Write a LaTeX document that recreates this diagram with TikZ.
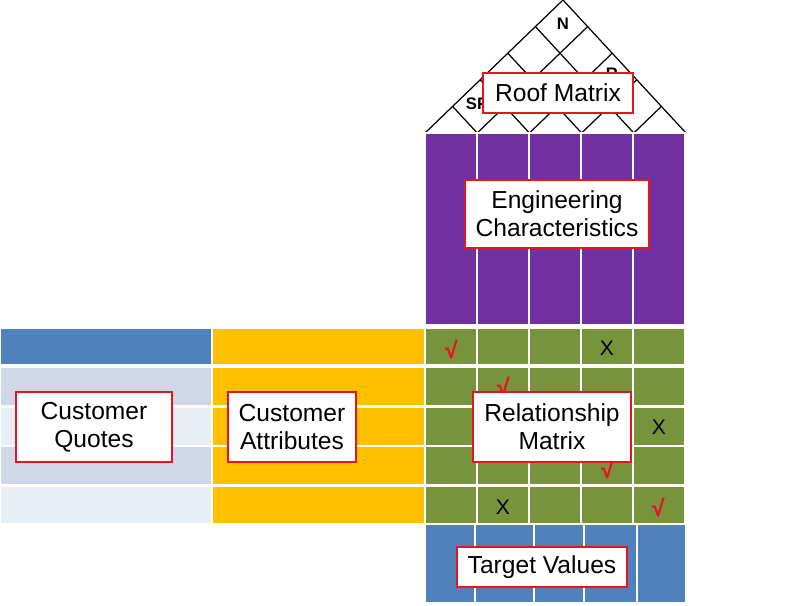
\documentclass[tikz,border=0pt]{standalone}
\usepackage{fontspec}
\setmainfont{Liberation Sans}
\newfontfamily\checkfont{Liberation Sans}[FakeBold=3]
\usetikzlibrary{calc}
\definecolor{ecpurple}{HTML}{7030A0}
\definecolor{relgreen}{HTML}{77933C}
\definecolor{tvblue}{HTML}{4F81BD}
\definecolor{caorange}{HTML}{FFC000}
\definecolor{cqdark}{HTML}{D0D8E8}
\definecolor{cqlight}{HTML}{E9EDF4}
\definecolor{tagred}{HTML}{E8141C}
\tikzset{
  label box/.style={draw=tagred, line width=1.4pt, fill=white, align=center, inner sep=0pt,
    font=\fontsize{14}{16}\selectfont},
  cell/.style={draw=white, line width=1.2pt},
  roof line/.style={line width=0.7pt},
  check/.style={text=tagred, inner sep=0pt, font=\checkfont\fontsize{13}{13}\selectfont},
  cross/.style={inner sep=0pt, font=\fontsize{12}{12}\selectfont},
  roof tag/.style={inner sep=0pt, font=\bfseries\fontsize{9.5}{10}\selectfont},
}
\begin{document}
\begin{tikzpicture}[x=0.02cm,y=-0.02cm]
    \useasboundingbox (0,0) rectangle (800,605);
    \fill[white] (0,0) rectangle (800,605);
    % roof
    \coordinate (apex) at (563,0);
    \coordinate (eaveL) at (425,133);
    \coordinate (eaveR) at (686,133);
    \draw[roof line] (eaveL) -- (apex) -- (eaveR);
    \foreach \i in {1,...,4} {
      \draw[roof line] ($(eaveL)!\i/5!(eaveR)$) -- ($(apex)!\i/5!(eaveR)$);
      \draw[roof line] ($(eaveL)!\i/5!(eaveR)$) -- ($(eaveL)!\i/5!(apex)$);
    }
    \node[roof tag] (tagN) at (563,24) {N};
    \node[roof tag] (tagR) at (612,74) {R};
    \node[roof tag] (tagSP) at (477,104) {SP};
    % engineering characteristics
    \foreach \xa/\xb in {425/477,477/529,529/581,581/633,633/685} {
      \draw[cell,fill=ecpurple] (\xa,133) rectangle (\xb,325);
    }
    % relationship matrix
    \foreach \ya/\yb in {328/365,367/406.5,406.5/446,446/485.5,485.5/524} {
      \foreach \xa/\xb in {425/477,477/529,529/581,581/633,633/685} {
        \draw[cell,fill=relgreen] (\xa,\ya) rectangle (\xb,\yb);
      }
    }
    % customer side
    \draw[cell,fill=tvblue] (0,328) rectangle (212,365);
    \draw[cell,fill=caorange] (212,328) rectangle (425,365);
    \foreach \ya/\yb/\c in {367/406.5/cqdark,406.5/446/cqlight,446/485.5/cqdark,485.5/524/cqlight} {
      \draw[cell,fill=\c] (0,\ya) rectangle (212,\yb);
      \draw[cell,fill=caorange] (212,\ya) rectangle (425,\yb);
    }
    % target values
    \foreach \xa/\xb in {425/475,475/534,534/584,584/637,637/686} {
      \draw[cell,fill=tvblue] (\xa,524) rectangle (\xb,603);
    }
    % marks
    \node[check] (chk1) at (451,349) {√};
    \node[check] (chk2) at (503,386) {√};
    \node[check] (chk3) at (607,469) {√};
    \node[check] (chk4) at (658,507) {√};
    \node[cross] (crs1) at (607,348) {X};
    \node[cross] (crs2) at (659,427) {X};
    \node[cross] (crs3) at (503,507) {X};
    % labels
    \node[label box,minimum width=3cm,minimum height=0.8cm] (roof) at (558,93) {Roof Matrix};
    \node[label box,minimum width=3.68cm,minimum height=1.36cm] (eng) at (557,214) {Engineering\\Characteristics};
    \node[label box,minimum width=3.16cm,minimum height=1.4cm] (rel) at (552,427) {Relationship\\Matrix};
    \node[label box,minimum width=3.12cm,minimum height=1.4cm] (quotes) at (94,427) {Customer\\Quotes};
    \node[label box,minimum width=2.56cm,minimum height=1.4cm] (attr) at (292,427) {Customer\\Attributes};
    \node[label box,minimum width=3.4cm,minimum height=0.8cm] (target) at (542,567) {Target Values};
  \end{tikzpicture}
\end{document}
